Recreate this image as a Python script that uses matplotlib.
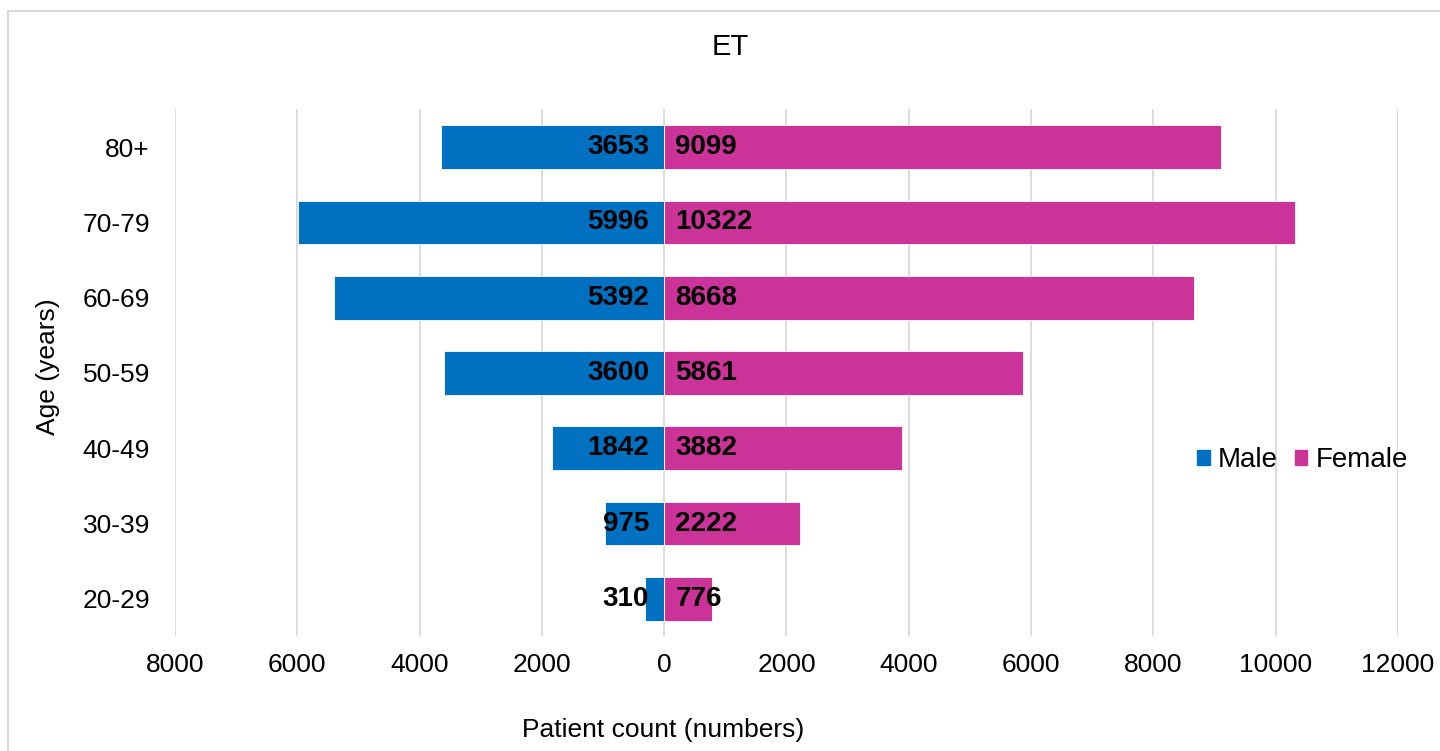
import numpy as np
import matplotlib.pyplot as plt
from matplotlib.patches import Rectangle, Patch

plt.rcParams['font.family'] = ['Liberation Sans', 'DejaVu Sans']

age_groups = ['20-29', '30-39', '40-49', '50-59', '60-69', '70-79', '80+']
male = [310, 975, 1842, 3600, 5392, 5996, 3653]
female = [776, 2222, 3882, 5861, 8668, 10322, 9099]
x_ticks = [-8000, -6000, -4000, -2000, 0, 2000, 4000, 6000, 8000, 10000, 12000]

male_color = '#0070C0'
female_color = '#CC3399'

fig = plt.figure(figsize=(14.4, 7.51), dpi=100)
ax = fig.add_axes([0.1215, 0.1525, 0.8493, 0.7017])

y = np.arange(len(age_groups))
ax.barh(y, -np.array(male), height=0.58, color=male_color, edgecolor='white', linewidth=0.6, zorder=2)
ax.barh(y, female, height=0.58, color=female_color, edgecolor='white', linewidth=0.6, zorder=2)

# value labels sit at the base of each bar
for i in range(len(age_groups)):
    ax.annotate(str(male[i]), (0, y[i]), xytext=(-11, 0), textcoords='offset points',
                ha='right', va='center', fontsize=20, fontweight='bold', zorder=3)
    ax.annotate(str(female[i]), (0, y[i]), xytext=(8, 0), textcoords='offset points',
                ha='left', va='center', fontsize=20, fontweight='bold', zorder=3)

ax.set_xlim(-8000, 12000)
ax.set_ylim(-0.5, len(age_groups) - 0.5)
ax.set_xticks(x_ticks)
ax.set_xticklabels([str(abs(t)) for t in x_ticks], fontsize=19)
ax.set_yticks(y)
ax.set_yticklabels(age_groups, fontsize=19)
ax.tick_params(length=0)
ax.tick_params(axis='x', pad=12)
ax.tick_params(axis='y', pad=18)
ax.xaxis.grid(True, color='#D9D9D9', linewidth=1.3, zorder=0)
ax.set_axisbelow(True)
for s in ax.spines.values():
    s.set_visible(False)

fig.text(730 / 1440, 1 - 47 / 751, 'ET', fontsize=21, ha='center', va='center')
fig.text(663 / 1440, 1 - 730 / 751, 'Patient count (numbers)', fontsize=19, ha='center', va='center')
fig.text(48 / 1440, 1 - 367 / 751, 'Age (years)', fontsize=19, ha='center', va='center', rotation=90)

handles = [Patch(color=male_color, label='Male'), Patch(color=female_color, label='Female')]
ax.legend(handles=handles, loc='center', bbox_to_anchor=(0.922, 0.335), ncol=2, frameon=False,
          fontsize=20, handlelength=0.45, handleheight=0.45, handletextpad=0.3, columnspacing=0.6)

fig.patches.append(Rectangle((8 / 1440, -0.05), 1.1, 1 - 11 / 751 + 0.05, transform=fig.transFigure,
                             fill=False, edgecolor='#D9D9D9', linewidth=1.5))

fig.savefig('out.png', dpi=100)
